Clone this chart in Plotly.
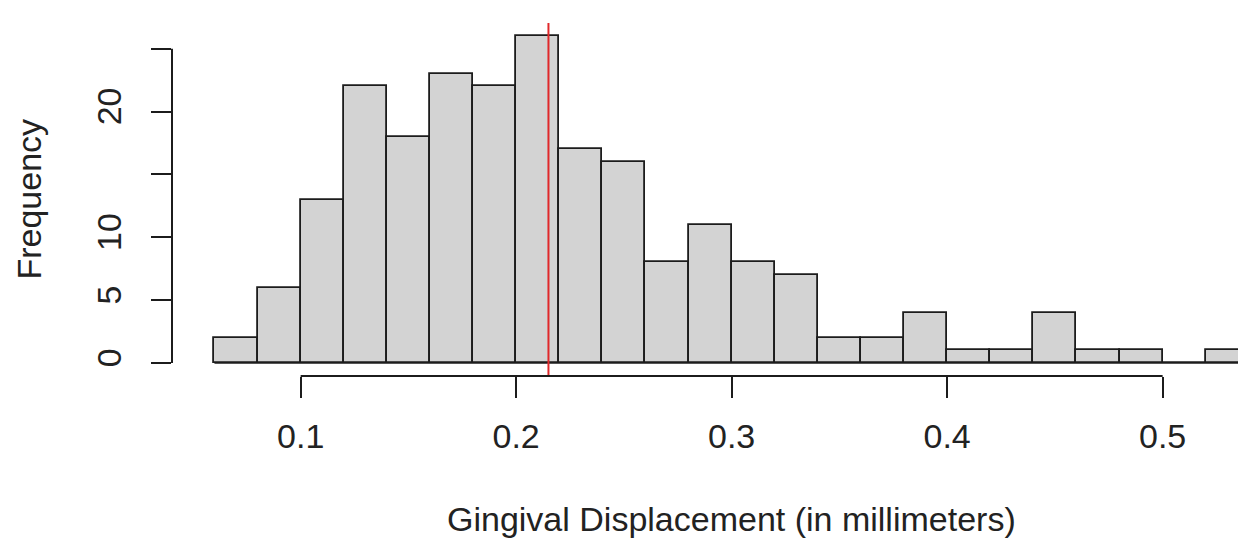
import plotly.graph_objects as go

# ---- data ----
bin_left_edges = [0.06, 0.08, 0.10, 0.12, 0.14, 0.16, 0.18, 0.20, 0.22, 0.24, 0.26, 0.28,
                  0.30, 0.32, 0.34, 0.36, 0.38, 0.40, 0.42, 0.44, 0.46, 0.48, 0.50, 0.52]
counts = [2, 6, 13, 22, 18, 23, 22, 26, 17, 16, 8, 11,
          8, 7, 2, 2, 4, 1, 1, 4, 1, 1, 0, 1]
bin_width = 0.02
mean_value = 0.215

x_tick_values = [0.1, 0.2, 0.3, 0.4, 0.5]
x_tick_labels = ["0.1", "0.2", "0.3", "0.4", "0.5"]
y_tick_values = [0, 5, 10, 15, 20, 25]
# R drops the labels of 15 and 25 (overlap), only their tick marks remain
y_tick_labels = ["0", "5", "10", "", "20", ""]

x_title = "Gingival Displacement (in millimeters)"
y_title = "Frequency"

# ---- styling ----
FONT = "Liberation Sans, Arial, sans-serif"
TXT = "#222222"
LINE = "#1c1c1c"
FS = 34

centers = [e + bin_width / 2 for e in bin_left_edges]
data_lo = bin_left_edges[0]
data_hi = bin_left_edges[-1] + bin_width
usr_mid = (data_lo + data_hi) / 2

fig = go.Figure()
fig.add_trace(go.Bar(
    x=centers, y=counts, width=[bin_width] * len(counts),
    marker=dict(color="#D3D3D3", line=dict(color=LINE, width=1.8)),
    showlegend=False, hoverinfo="x+y",
))

shapes = [
    # baseline under bins (shows zero-count bins like R)
    dict(type="line", xref="x", yref="y", x0=data_lo, x1=data_hi, y0=0, y1=0,
         line=dict(color=LINE, width=1.8), layer="above"),
    # mean line
    dict(type="line", xref="x", yref="paper", x0=mean_value, x1=mean_value, y0=0, y1=1,
         line=dict(color="#E0282A", width=2), layer="above"),
    # R-style x axis line spanning first to last tick
    dict(type="line", xref="x", yref="paper", x0=x_tick_values[0], x1=x_tick_values[-1],
         y0=0, y1=0, line=dict(color=LINE, width=2)),
    # R-style y axis line spanning first to last tick
    dict(type="line", xref="paper", yref="y", x0=0, x1=0,
         y0=y_tick_values[0], y1=y_tick_values[-1], line=dict(color=LINE, width=2)),
]

annotations = [
    dict(text=x_title, xref="x", yref="paper", x=usr_mid, y=-0.404,
         xanchor="center", yanchor="middle", showarrow=False,
         font=dict(family=FONT, size=FS, color=TXT)),
    dict(text=y_title, xref="paper", yref="paper", x=-0.134, y=0.5,
         xanchor="center", yanchor="middle", textangle=-90, showarrow=False,
         font=dict(family=FONT, size=FS, color=TXT)),
]

fig.update_layout(
    width=1238, height=534,
    margin=dict(l=164, r=0, t=15, b=166),
    paper_bgcolor="white", plot_bgcolor="white",
    bargap=0,
    shapes=shapes, annotations=annotations,
    xaxis=dict(range=[0.0403, 0.5387], showgrid=False, zeroline=False, showline=False,
               tickmode="array", tickvals=x_tick_values, ticktext=x_tick_labels,
               ticks="outside", ticklen=21, tickwidth=2, tickcolor=LINE,
               ticklabelstandoff=9,
               tickfont=dict(family=FONT, size=FS, color=TXT)),
    yaxis=dict(range=[-1.04, 27.04], showgrid=False, zeroline=False, showline=False,
               tickmode="array", tickvals=y_tick_values, ticktext=y_tick_labels,
               ticks="outside", ticklen=20, tickwidth=2, tickcolor=LINE, tickangle=-90,
               ticklabelstandoff=16,
               tickfont=dict(family=FONT, size=FS, color=TXT)),
)

fig.write_html("out.html")
